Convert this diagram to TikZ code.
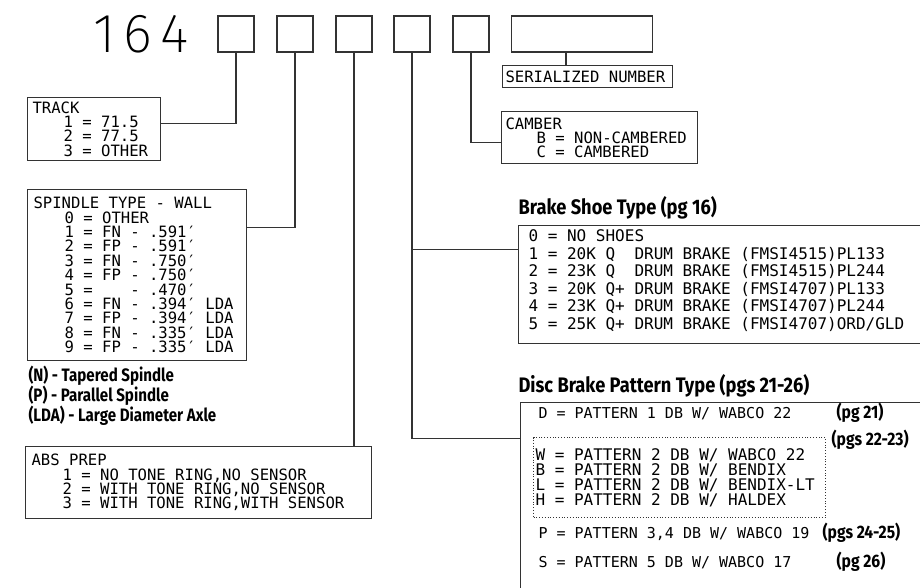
\documentclass[tikz,border=0pt]{standalone}
\usepackage{fontspec}
\newfontfamily\cadfont{DejaVu Sans Mono}
\newfontfamily\notefont{Fira Sans}[FakeStretch=0.84]
\newfontfamily\headfont{Fira Sans}[FakeStretch=0.87]
\newfontfamily\bigfont{Fira Sans ExtraLight}[LetterSpace=14]
\newcommand\entryind{\hspace*{31pt}}
\definecolor{wire}{HTML}{333333}

\begin{document}
\begin{tikzpicture}[x=1pt,y=-1pt,line width=1.1pt,
  digitbox/.style={draw=wire,minimum width=36pt,minimum height=36pt,inner sep=0pt},
  keybox/.style={draw=wire,anchor=north west,align=flush left,inner ysep=0pt,font=\cadfont\fontsize{15.6}{14.2}\selectfont},
  dotbox/.style={draw=wire,line width=1pt,dash pattern=on 1pt off 1.8pt,anchor=north west,align=flush left,inner ysep=0pt,font=\cadfont\fontsize{16}{15}\selectfont},
  patline/.style={anchor=base west,inner sep=0pt,font=\cadfont\fontsize{15}{15}\selectfont},
  heading/.style={anchor=west,inner sep=0pt,font=\headfont\bfseries\fontsize{21}{24}\selectfont},
  pgref/.style={anchor=west,inner sep=0pt,font=\headfont\bfseries\fontsize{18}{20}\selectfont}]
\path[use as bounding box] (0,0) rectangle (920,587);
\clip (0,0) rectangle (920,587);
\node[anchor=base,inner sep=0pt,font=\bigfont\fontsize{55}{55}\selectfont] (prefix) at (141,52) {164};
\foreach \n/\x in {1/236,2/295,3/354,4/412,5/471}
  \node[digitbox] (b\n) at (\x,34) {};
\node[digitbox,minimum width=141pt] (b6) at (582,34) {};
\node[keybox,inner xsep=3pt,text width=164pt,minimum height=22pt] (serial) at (502,65) {SERIALIZED NUMBER};
\node[keybox,inner xsep=5pt,text width=123pt,minimum height=63pt] (track) at (27,97) {TRACK\\\entryind 1 = 71.5\\\entryind 2 = 77.5\\\entryind 3 = OTHER};
\node[keybox,inner xsep=6pt,text width=207pt,minimum height=171pt,font=\cadfont\fontsize{15.6}{14.4}\selectfont] (spindle) at (27,189) {SPINDLE TYPE - WALL\\
  \entryind 0 = OTHER\\
  \entryind 1 = FN - .591′\\
  \entryind 2 = FP - .591′\\
  \entryind 3 = FN - .750′\\
  \entryind 4 = FP - .750′\\
  \entryind 5 =~~~~- .470′\\
  \entryind 6 = FN - .394′ LDA\\
  \entryind 7 = FP - .394′ LDA\\
  \entryind 8 = FN - .335′ LDA\\
  \entryind 9 = FP - .335′ LDA};
\node[anchor=north west,inner sep=0pt,align=left,font=\notefont\bfseries\fontsize{18}{19}\selectfont] (notes) at (28,365) {(N) - Tapered Spindle\\(P) - Parallel Spindle\\(LDA) - Large Diameter Axle};
\node[keybox,inner xsep=6pt,text width=334pt,minimum height=72pt] (abs) at (25,446) {ABS PREP\\
  \entryind 1 = NO TONE RING,NO SENSOR\\
  \entryind 2 = WITH TONE RING,NO SENSOR\\
  \entryind 3 = WITH TONE RING,WITH SENSOR};
\node[keybox,inner xsep=4pt,text width=188pt,minimum height=52pt] (camber) at (501,111) {CAMBER\\\entryind B = NON-CAMBERED\\\entryind C = CAMBERED};
\node[heading] (shoehead) at (518,208) {Brake Shoe Type (pg 16)};
\node[keybox,inner xsep=10pt,text width=400pt,minimum height=118pt,font=\cadfont\fontsize{16}{17.5}\selectfont] (shoe) at (518,225) {0 = NO SHOES\\
  1 = 20K Q~~DRUM BRAKE (FMSI4515)PL133\\
  2 = 23K Q~~DRUM BRAKE (FMSI4515)PL244\\
  3 = 20K Q+ DRUM BRAKE (FMSI4707)PL133\\
  4 = 23K Q+ DRUM BRAKE (FMSI4707)PL244\\
  5 = 25K Q+ DRUM BRAKE (FMSI4707)ORD/GLD\par\kern8pt};
\node[heading] (dischead) at (518,386) {Disc Brake Pattern Type (pgs 21-26)};
\node[keybox,minimum width=420pt,minimum height=200pt,inner sep=0pt] (disc) at (520,402) {};
\node[patline] (pat1) at (538,418.5) {D = PATTERN 1 DB W/ WABCO 22};
\node[dotbox,inner xsep=2pt,text width=288pt,minimum height=80pt] (pat2) at (533,437) {W = PATTERN 2 DB W/ WABCO 22\\
  B = PATTERN 2 DB W/ BENDIX\\
  L = PATTERN 2 DB W/ BENDIX-LT\\
  H = PATTERN 2 DB W/ HALDEX};
\node[patline] (pat3) at (538,538.5) {P = PATTERN 3,4 DB W/ WABCO 19};
\node[patline] (pat5) at (538,567.5) {S = PATTERN 5 DB W/ WABCO 17};
\node[pgref] (ref1) at (836,413) {(pg 21)};
\node[pgref] (ref2) at (831,440) {(pgs 22-23)};
\node[pgref] (ref3) at (822,533) {(pgs 24-25)};
\node[pgref] (ref5) at (836,562) {(pg 26)};
\draw[wire] (b1.south) -- ++(0,71) coordinate (trj) -- (trj -| track.east);
\draw[wire] (b2.south) -- ++(0,175) coordinate (spj) -- (spj -| spindle.east);
\draw[wire] (b3.south) -- (b3.south |- abs.north);
\draw[wire] (b4.south) -- ++(0,386) coordinate (dsj) -- (dsj -| disc.west);
\path (b4.south) ++(0,197) coordinate (shj);
\draw[wire] (shj) -- (shj -| shoe.west);
\draw[wire] (b5.south) -- ++(0,90) coordinate (cmj) -- (cmj -| camber.west);
\coordinate (snj) at (566,0);
\draw[wire] (snj |- b6.south) -- (snj |- serial.north);
\end{tikzpicture}
\end{document}
